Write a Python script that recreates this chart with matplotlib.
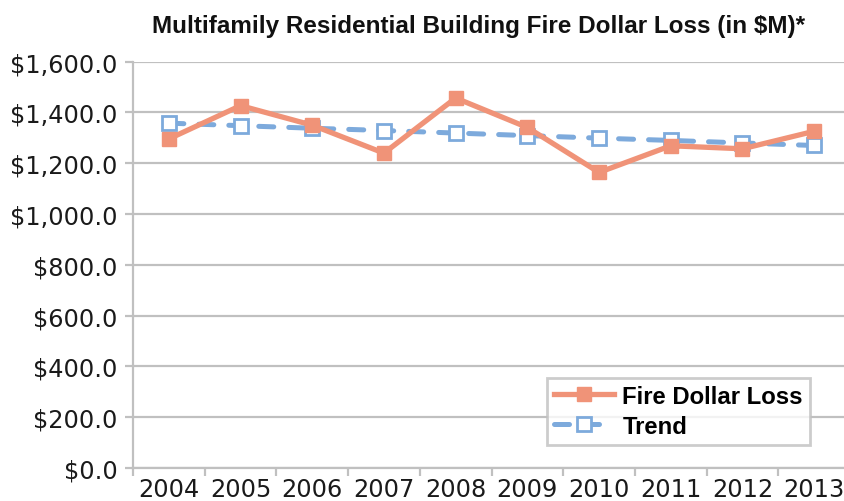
import matplotlib
matplotlib.use("Agg")
import matplotlib.pyplot as plt
from matplotlib.ticker import FixedLocator, FuncFormatter

years = ["2004", "2005", "2006", "2007", "2008", "2009", "2010", "2011", "2012", "2013"]
fire_loss = [1296, 1427, 1350, 1240, 1457, 1341, 1164, 1269, 1257, 1326]
trend = [1358, 1348, 1338, 1329, 1319, 1309, 1299, 1290, 1280, 1270]
y_ticks = [0, 200, 400, 600, 800, 1000, 1200, 1400, 1600]
title = "Multifamily Residential Building Fire Dollar Loss (in $M)*"

fire_color = "#F09378"
trend_color = "#7DAADC"
grid_color = "#C0C0C0"
BOLD_FAM = ["Liberation Sans Narrow", "Liberation Sans", "DejaVu Sans"]
TICK_FAM = ["DejaVu Sans"]

W, H = 844, 502
fig = plt.figure(figsize=(W/100, H/100), dpi=100)
left, right, top, bottom = 133, 850, 62.7, 469
ax = fig.add_axes([left/W, 1 - bottom/H, (right-left)/W, (bottom-top)/H])

x = list(range(len(years)))
ax.plot(x, trend, color=trend_color, lw=3.6, dashes=(3, 3), dash_capstyle="round",
        marker="s", markersize=10.5, markerfacecolor="white", markeredgecolor=trend_color,
        markeredgewidth=2, label="Trend", zorder=3)
ax.plot(x, fire_loss, color=fire_color, lw=3.8, marker="s", markersize=10.5,
        markerfacecolor=fire_color, markeredgecolor=fire_color,
        label="Fire Dollar Loss", zorder=4)

ax.set_xlim(-0.5, len(years) - 0.5)
ax.set_ylim(0, 1600)
ax.yaxis.set_major_locator(FixedLocator(y_ticks))
ax.yaxis.set_major_formatter(FuncFormatter(lambda v, p: "${:,.1f}".format(v)))
ax.set_xticks(x)
ax.set_xticklabels(years)
ax.set_xticks([i - 0.5 for i in range(len(years) + 1)], minor=True)
ax.tick_params(axis="x", which="major", length=0, pad=6.5)
ax.tick_params(axis="x", which="minor", length=6, width=1.6, color=grid_color)
ax.tick_params(axis="y", length=5.8, width=1.6, color=grid_color, pad=5.5)

for lab in ax.get_xticklabels() + ax.get_yticklabels():
    lab.set_fontfamily(TICK_FAM)
    lab.set_fontsize(17.3)
    lab.set_color("#1a1a1a")

ax.grid(axis="y", color=grid_color, lw=1.6)
ax.set_axisbelow(True)
for s in ["top", "right"]:
    ax.spines[s].set_visible(False)
ax.spines["left"].set_color(grid_color)
ax.spines["left"].set_linewidth(1.6)
ax.spines["bottom"].set_color(grid_color)
ax.spines["bottom"].set_linewidth(1.6)

fig.text(479/W, 1 - 33/H, title, ha="center", va="baseline",
         fontsize=17.5, fontweight="bold", family=BOLD_FAM, color="#111111")

handles, labels = ax.get_legend_handles_labels()
leg = fig.legend(handles[::-1], labels[::-1], loc="lower right",
                 bbox_to_anchor=(810/W, 1 - 446/H),
                 prop=dict(family=BOLD_FAM, weight="bold", size=17.2),
                 frameon=True, fancybox=False, edgecolor=grid_color,
                 handlelength=2.5, borderpad=0.3, labelspacing=0.3, handletextpad=0.35,
                 borderaxespad=0)
leg.get_frame().set_linewidth(2)

fig.savefig("out.png", dpi=100)
